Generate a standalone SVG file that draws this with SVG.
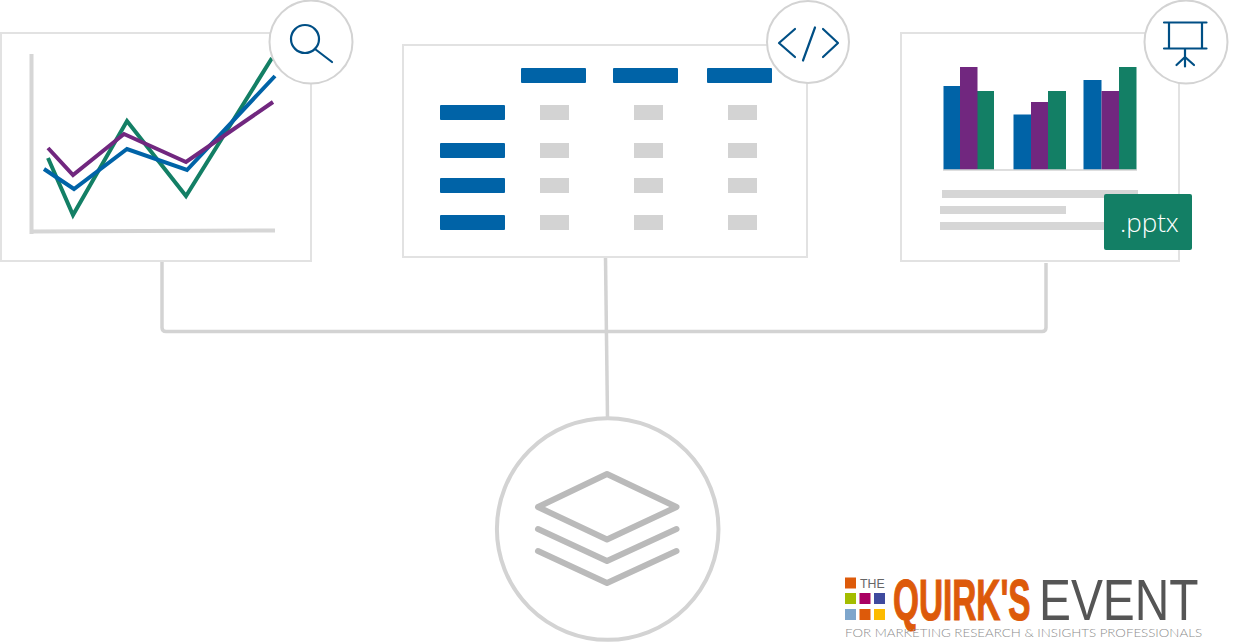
<svg xmlns="http://www.w3.org/2000/svg" width="1245" height="644" viewBox="0 0 1245 644">
<style>
.panel{fill:#fff;stroke:#e2e2e2;stroke-width:2}
.badge{fill:#fff;stroke:#d3d3d3;stroke-width:2}
.axis{fill:none;stroke:#d6d6d6;stroke-width:4}
.ln{fill:none;stroke-width:4}
.ic{fill:none;stroke:#004f85;stroke-width:2.2;stroke-linecap:round;stroke-linejoin:round}
.conn{fill:none;stroke:#d3d3d3;stroke-width:3.5;stroke-linejoin:round}
.hd{fill:#0063a7}
.cell{fill:#d3d3d3}
.bar{fill:#d6d6d6}
.b{fill:#0063a7}.p{fill:#71277f}.g{fill:#137f65}
.lay{fill:none;stroke:#bababa;stroke-width:6;stroke-linecap:round;stroke-linejoin:round}
</style>
<rect width="1245" height="644" fill="#fff"/>
<g id="connectors">
<path class="conn" d="M162 262V327.500Q162 331.500 166 331.500H1042Q1046 331.500 1046 327.500V263"/>
<path class="conn" d="M605.500 258L607.500 418"/>
</g>
<g id="chart-panel">
<rect class="panel" x="1" y="33" width="310" height="228"/>
<path class="axis" d="M31.500 54V234M31 231.500L275 230.500"/>
<path class="ln" stroke="#137f65" d="M48 158L73 215L127 121L186 196L272 58"/>
<path class="ln" stroke="#0063a7" d="M44 169L74 189L127 149L187 170L275 76"/>
<path class="ln" stroke="#71277f" d="M48 148L73 175L124 134L186 162L273 102"/>
<circle class="badge" cx="311" cy="42" r="41.500"/>
<circle class="ic" cx="305" cy="39" r="14"/>
<path class="ic" d="M315 49L332 62"/>
</g>
<g id="table-panel">
<rect class="panel" x="403" y="45" width="404" height="212"/>
<g class="hd">
<rect x="521" y="68" width="65" height="15" rx="1"/><rect x="613" y="68" width="65" height="15" rx="1"/><rect x="707" y="68" width="65" height="15" rx="1"/>
<rect x="440" y="105" width="65" height="15" rx="1"/><rect x="440" y="143" width="65" height="15" rx="1"/><rect x="440" y="178" width="65" height="15" rx="1"/><rect x="440" y="215" width="65" height="15" rx="1"/>
</g>
<g class="cell">
<rect x="540" y="105" width="29" height="15"/><rect x="634" y="105" width="29" height="15"/><rect x="728" y="105" width="29" height="15"/>
<rect x="540" y="143" width="29" height="15"/><rect x="634" y="143" width="29" height="15"/><rect x="728" y="143" width="29" height="15"/>
<rect x="540" y="178" width="29" height="15"/><rect x="634" y="178" width="29" height="15"/><rect x="728" y="178" width="29" height="15"/>
<rect x="540" y="215" width="29" height="15"/><rect x="634" y="215" width="29" height="15"/><rect x="728" y="215" width="29" height="15"/>
</g>
<circle class="badge" cx="808" cy="42" r="41"/>
<path class="ic" d="M795 29L779 43L795 57M815 27.500L803 60.500M823 29L838 43L823 57"/>
</g>
<g id="slides-panel">
<rect class="panel" x="901" y="33" width="278" height="228"/>
<rect class="b" x="943.500" y="86" width="17" height="84"/><rect class="g" x="976.500" y="91" width="17.500" height="79"/><rect class="p" x="960" y="67" width="17.500" height="103"/>
<rect class="b" x="1013.500" y="114.500" width="18" height="55.500"/><rect class="g" x="1048" y="91" width="18" height="79"/><rect class="p" x="1031" y="102" width="17" height="68"/>
<rect class="b" x="1083.500" y="80" width="18" height="90"/><rect class="g" x="1119" y="67" width="17.500" height="103"/><rect class="p" x="1101.500" y="91" width="17.500" height="79"/>
<path d="M943 170H1137" stroke="#d3d3d3" stroke-width="1.500" fill="none"/>
<rect class="bar" x="942" y="190" width="196" height="8"/><rect class="bar" x="940" y="206" width="126" height="8"/><rect class="bar" x="940" y="222" width="170" height="8"/>
<rect class="g" x="1104" y="194" width="88" height="56" rx="2"/>
<text x="1120" y="232" font-family="'Open Sans','Liberation Sans',sans-serif" font-weight="300" font-size="26" fill="#fff">.pptx</text>
<circle class="badge" cx="1186" cy="42" r="41.500"/>
<path class="ic" d="M1164 22.500H1206.500M1164 48.500H1206.500M1169 22.500V48.500M1202 22.500V48.500M1185 48.500V66.500M1176.500 65L1185 57L1194 65"/>
</g>
<g id="data-node">
<circle cx="607.700" cy="529" r="110.800" fill="#fff" stroke="#d3d3d3" stroke-width="4"/>
<path class="lay" d="M607 474L676.500 507L607 539.500L538 507Z"/>
<path class="lay" d="M538 529L607 561L676.500 529"/>
<path class="lay" d="M538 551L607 583L676.500 551"/>
</g>
<g id="logo">
<rect x="845" y="577.500" width="11" height="11" fill="#dd5a0a"/>
<rect x="845" y="593" width="11" height="11" fill="#a4bd00"/><rect x="859.500" y="593" width="11" height="11" fill="#a90061"/><rect x="874" y="593" width="11" height="11" fill="#3f4a9e"/>
<rect x="845" y="609" width="11" height="11" fill="#7ea6cc"/><rect x="859.500" y="609" width="11" height="11" fill="#dd5a0a"/><rect x="874" y="609" width="11" height="11" fill="#fdbb00"/>
<text transform="translate(860 588) scale(.95 1)" font-family="'Liberation Sans',sans-serif" font-size="13" fill="#666">THE</text>
<text transform="translate(893 620) scale(.575 1)" font-family="'Liberation Sans',sans-serif" font-weight="700" font-size="58" fill="#dd5a0a" stroke="#dd5a0a" stroke-width="1.200">QUIRK'S</text>
<text transform="translate(1039 620) scale(.825 1)" font-family="'Liberation Sans',sans-serif" font-size="58" fill="#555">EVENT</text>
<text x="845" y="637" font-family="'Lato','Liberation Sans',sans-serif" font-weight="300" font-size="11" fill="#8c8c8c" textLength="357" lengthAdjust="spacingAndGlyphs">FOR MARKETING RESEARCH &amp; INSIGHTS PROFESSIONALS</text>
</g>
</svg>
